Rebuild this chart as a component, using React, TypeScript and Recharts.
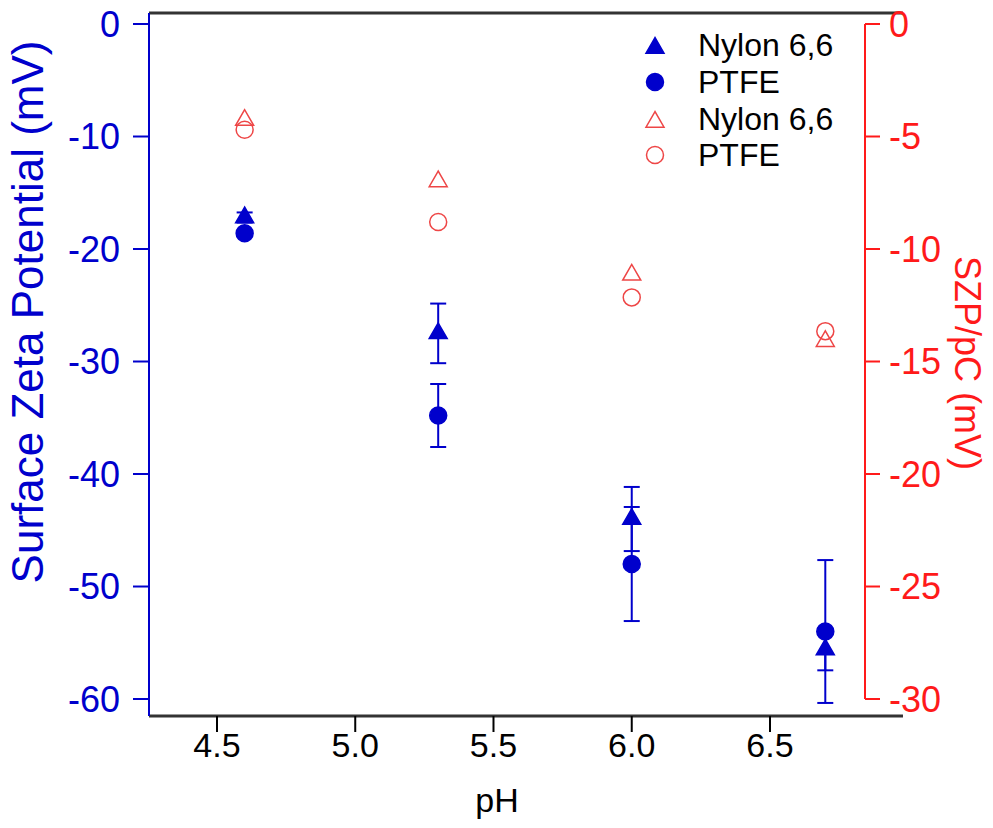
import React from "react";
import {
  ScatterChart,
  Scatter,
  XAxis,
  YAxis,
  ErrorBar,
  ReferenceLine,
} from "recharts";

// pH values shared by all series
const phValues = [4.6, 5.3, 6.0, 6.7];

// surface zeta potential (left axis, mV)
const nylonSzp = [-17.2, -27.5, -44.0, -55.6];
const nylonSzpErr = [0.45, 2.65, 2.85, 1.85];
const ptfeSzp = [-18.6, -34.8, -48.0, -54.0];
const ptfeSzpErr = [0, 2.8, 5.07, 6.35];

// SZP/pC (right axis, mV)
const nylonSzpPc = [-4.27, -7.0, -11.15, -14.1];
const ptfeSzpPc = [-4.7, -8.8, -12.15, -13.65];

const xTicks = [4.5, 5.0, 5.5, 6.0, 6.5];
const leftTicks = [0, -10, -20, -30, -40, -50, -60];
const rightTicks = [0, -5, -10, -15, -20, -25, -30];

const BLUE = "#0000CC";
const RED = "#FF1A1A";
const PINK = "#EE4646";
const FONT = "'Liberation Sans', Arial, sans-serif";

const X_MIN = 4.2541;
const X_MAX = 6.8436;
const X_FRAME = 6.981;
const L_MIN = -61.51;
const L_MAX = 0.978;
const R_MIN = L_MIN / 2;
const R_MAX = L_MAX / 2;

const toRows = (vals: number[], errs?: number[]) =>
  phValues.map((ph, i) => ({ ph, v: vals[i], err: errs ? errs[i] : 0 }));

const Tri = ({ cx, cy, fill, stroke }: any) => {
  const w = 18;
  const h = 15.6;
  return (
    <polygon
      points={`${cx},${cy - (2 * h) / 3} ${cx - w / 2},${cy + h / 3} ${cx + w / 2},${cy + h / 3}`}
      fill={fill}
      stroke={stroke}
      strokeWidth={1.5}
    />
  );
};

const Dot = ({ cx, cy, fill, stroke }: any) => (
  <circle cx={cx} cy={cy} r={8.5} fill={fill} stroke={stroke} strokeWidth={1.5} />
);

const legendItems = [
  { name: "Nylon 6,6", kind: "tri", fill: BLUE, stroke: BLUE },
  { name: "PTFE", kind: "dot", fill: BLUE, stroke: BLUE },
  { name: "Nylon 6,6", kind: "tri", fill: "none", stroke: PINK },
  { name: "PTFE", kind: "dot", fill: "none", stroke: PINK },
];

// axis title drawn at a fixed spot
const title =
  (text: string, x: number, y: number, angle: number, color: string, size: number) => () =>
    (
      <text
        x={x}
        y={y}
        transform={`rotate(${angle}, ${x}, ${y})`}
        textAnchor="middle"
        dominantBaseline="central"
        fill={color}
        fontSize={size}
        fontFamily={FONT}
      >
        {text}
      </text>
    );

export default function App() {
  return (
    <div style={{ position: "relative", width: 993, height: 828, background: "#fff" }}>
      <style>{"body{margin:0}"}</style>
      <ScatterChart
        width={993}
        height={828}
        margin={{ top: 13, right: 0, bottom: 0, left: 0 }}
      >
        <XAxis
          type="number"
          dataKey="ph"
          domain={[X_MIN, X_MAX]}
          ticks={xTicks}
          allowDataOverflow
          tickFormatter={(v: number) => v.toFixed(1)}
          axisLine={false}
          tickSize={16}
          tickMargin={1}
          tickLine={{ stroke: "#000", strokeWidth: 2 }}
          tick={{ fill: "#000", fontSize: 34, fontFamily: FONT }}
          height={112}
          label={{ content: title("pH", 497, 800, 0, "#000", 34) }}
        />
        <YAxis
          yAxisId="left"
          type="number"
          dataKey="v"
          domain={[L_MIN, L_MAX]}
          ticks={leftTicks}
          allowDataOverflow
          width={149}
          axisLine={{ stroke: BLUE, strokeWidth: 2 }}
          tickSize={16}
          tickMargin={13}
          tickLine={{ stroke: BLUE, strokeWidth: 2 }}
          tick={{ fill: BLUE, fontSize: 36, fontFamily: FONT }}
          label={{ content: title("Surface Zeta Potential (mV)", 27, 312, -90, BLUE, 44) }}
        />
        <YAxis
          yAxisId="right"
          orientation="right"
          type="number"
          dataKey="v"
          domain={[R_MIN, R_MAX]}
          ticks={rightTicks}
          allowDataOverflow
          width={128}
          axisLine={false}
          tickSize={15}
          tickMargin={9}
          tickLine={{ stroke: RED, strokeWidth: 2 }}
          tick={{ fill: RED, fontSize: 36, fontFamily: FONT }}
          label={{ content: title("SZP/pC (mV)", 967, 363, 90, RED, 36) }}
        />
        <ReferenceLine
          yAxisId="right"
          ifOverflow="visible"
          segment={[
            { x: X_MAX, y: 0 },
            { x: X_MAX, y: -30 },
          ]}
          stroke={RED}
          strokeWidth={2}
        />
        <ReferenceLine
          yAxisId="left"
          ifOverflow="visible"
          segment={[
            { x: X_MIN, y: L_MAX },
            { x: X_FRAME, y: L_MAX },
          ]}
          stroke="#333"
          strokeWidth={3}
        />
        <ReferenceLine
          yAxisId="left"
          ifOverflow="visible"
          segment={[
            { x: X_MIN, y: L_MIN },
            { x: X_FRAME, y: L_MIN },
          ]}
          stroke="#333"
          strokeWidth={3}
        />
        <Scatter
          yAxisId="right"
          data={toRows(nylonSzpPc)}
          isAnimationActive={false}
          shape={(p: any) => <Tri cx={p.cx} cy={p.cy} fill="none" stroke={PINK} />}
        />
        <Scatter
          yAxisId="right"
          data={toRows(ptfeSzpPc)}
          isAnimationActive={false}
          shape={(p: any) => <Dot cx={p.cx} cy={p.cy} fill="none" stroke={PINK} />}
        />
        <Scatter
          yAxisId="left"
          data={toRows(ptfeSzp, ptfeSzpErr)}
          isAnimationActive={false}
          shape={(p: any) => <Dot cx={p.cx} cy={p.cy} fill={BLUE} stroke={BLUE} />}
        >
          <ErrorBar dataKey="err" direction="y" width={8} stroke={BLUE} strokeWidth={2} />
        </Scatter>
        <Scatter
          yAxisId="left"
          data={toRows(nylonSzp, nylonSzpErr)}
          isAnimationActive={false}
          shape={(p: any) => <Tri cx={p.cx} cy={p.cy} fill={BLUE} stroke={BLUE} />}
        >
          <ErrorBar dataKey="err" direction="y" width={8} stroke={BLUE} strokeWidth={2} />
        </Scatter>
      </ScatterChart>
      <div
        style={{
          position: "absolute",
          left: 640,
          top: 27,
          fontFamily: FONT,
          fontSize: 32,
          color: "#000",
          lineHeight: 1,
        }}
      >
        {legendItems.map((it, i) => (
          <div key={i} style={{ display: "flex", alignItems: "center", height: 36.7 }}>
            <svg width={30} height={30}>
              {it.kind === "tri" ? (
                <Tri cx={15} cy={18} fill={it.fill} stroke={it.stroke} />
              ) : (
                <Dot cx={15} cy={15} fill={it.fill} stroke={it.stroke} />
              )}
            </svg>
            <span style={{ marginLeft: 28 }}>{it.name}</span>
          </div>
        ))}
      </div>
    </div>
  );
}
